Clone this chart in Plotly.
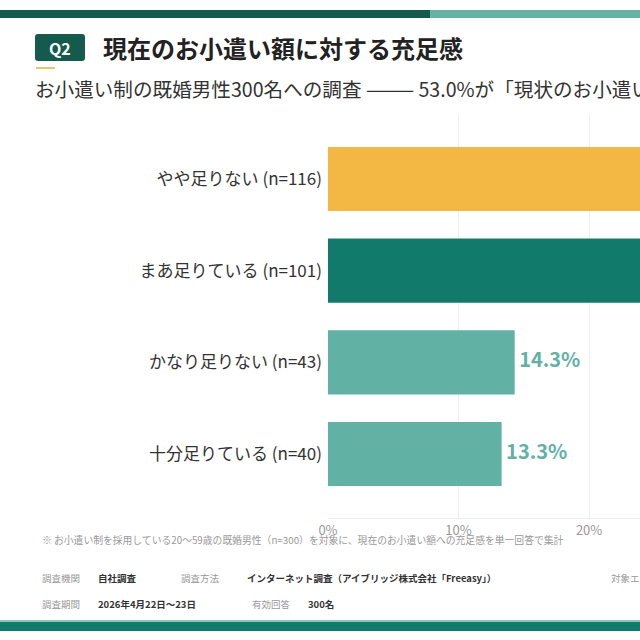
import plotly.graph_objects as go

# ---- data ----
categories = ["やや足りない", "まあ足りている", "かなり足りない", "十分足りている"]
counts = [116, 101, 43, 40]
percent = [38.7, 33.7, 14.3, 13.3]
bar_colors = ["#F2B843", "#127A6B", "#62B1A5", "#62B1A5"]
x_ticks = [0, 10, 20, 30, 40]
x_tick_labels = ["0%", "10%", "20%", "30%", "40%"]

labels = [f"{c} (n={n})" for c, n in zip(categories, counts)]
W = H = 640
FONT = "Noto Sans CJK JP"


def px(x):
    return x / W


def py(y):
    return 1 - y / H


fig = go.Figure()
fig.add_trace(go.Bar(
    x=percent, y=labels, orientation="h",
    marker=dict(color=bar_colors, line=dict(width=0)),
    width=0.70, hoverinfo="skip",
))
fig.add_trace(go.Scatter(
    x=percent, y=labels, mode="text",
    text=[f"\u00a0<b>{p:.1f}%</b>" for p in percent],
    textposition="middle right",
    textfont=dict(family=FONT, size=20, color=bar_colors),
    cliponaxis=True, hoverinfo="skip",
))

shapes = []
# top band
shapes.append(dict(type="rect", xref="paper", yref="paper", x0=0, x1=px(430), y0=py(18), y1=py(10),
                   fillcolor="#145B4D", line=dict(width=0), layer="above"))
shapes.append(dict(type="rect", xref="paper", yref="paper", x0=px(430), x1=1, y0=py(18), y1=py(10),
                   fillcolor="#66B3A6", line=dict(width=0), layer="above"))
# Q2 badge (rounded)
x0, x1, y0, y1, r = 35, 85, 34, 61, 3
path = (f"M {px(x0+r)},{py(y0)} L {px(x1-r)},{py(y0)} Q {px(x1)},{py(y0)} {px(x1)},{py(y0+r)} "
        f"L {px(x1)},{py(y1-r)} Q {px(x1)},{py(y1)} {px(x1-r)},{py(y1)} "
        f"L {px(x0+r)},{py(y1)} Q {px(x0)},{py(y1)} {px(x0)},{py(y1-r)} "
        f"L {px(x0)},{py(y0+r)} Q {px(x0)},{py(y0)} {px(x0+r)},{py(y0)} Z")
shapes.append(dict(type="path", xref="paper", yref="paper", path=path,
                   fillcolor="#145B4D", line=dict(width=0)))
# yellow underline
shapes.append(dict(type="rect", xref="paper", yref="paper", x0=px(36), x1=px(55), y0=py(69), y1=py(67),
                   fillcolor="#E8C66A", line=dict(width=0)))
# bottom band
shapes.append(dict(type="rect", xref="paper", yref="paper", x0=0, x1=1, y0=py(622), y1=py(620),
                   fillcolor="#8CC8BC", line=dict(width=0)))
shapes.append(dict(type="rect", xref="paper", yref="paper", x0=0, x1=1, y0=py(631), y1=py(622),
                   fillcolor="#127A6B", line=dict(width=0)))

ann = []


def add_text(x, y, text, size, color, bold=False, anchor="left"):
    ann.append(dict(xref="paper", yref="paper", x=px(x), y=py(y), xanchor=anchor, yanchor="middle",
                    text=f"<b>{text}</b>" if bold else text, showarrow=False,
                    font=dict(family=FONT, size=size, color=color)))


add_text(60, 47.5, "Q2", 16, "#FFFFFF", bold=True, anchor="center")
add_text(101, 47, "現在のお小遣い額に対する充足感", 24, "#222222", bold=True)
add_text(33, 89, "お小遣い制の既婚男性300名への調査 ——— 53.0%が「現状のお小遣いでは足りない」と回答", 19.6, "#333333")
add_text(40, 540, "※ お小遣い制を採用している20～59歳の既婚男性（n=300）を対象に、現在のお小遣い額への充足感を単一回答で集計", 9.8, "#999999")
add_text(40, 578, "調査機関", 9.5, "#999999")
add_text(96, 578, "自社調査", 9.5, "#333333", bold=True)
add_text(179, 578, "調査方法", 9.5, "#999999")
add_text(245, 578, "インターネット調査（アイブリッジ株式会社「Freeasy」）", 9.5, "#333333", bold=True)
add_text(609, 578, "対象エリア", 9.5, "#999999")
add_text(40, 604, "調査期間", 9.5, "#999999")
add_text(96, 604, "2026年4月22日～23日", 9.5, "#333333", bold=True)
add_text(250, 604, "有効回答", 9.5, "#999999")
add_text(306, 604, "300名", 9.5, "#333333", bold=True)

fig.update_layout(
    template="none",
    width=W, height=H,
    margin=dict(l=0, r=0, t=0, b=0, pad=0, autoexpand=False),
    paper_bgcolor="white", plot_bgcolor="white",
    showlegend=False, bargap=0.3,
    font=dict(family=FONT),
    shapes=shapes, annotations=ann,
    xaxis=dict(domain=[px(328), 1], range=[0, 23.9], tickvals=x_ticks, ticktext=x_tick_labels,
               automargin=False,
               showgrid=True, gridcolor="#EEEEEE", gridwidth=1, zeroline=False,
               showline=True, linecolor="#EEEEEE", ticks="",
               tickfont=dict(family=FONT, size=13, color="#999999")),
    yaxis=dict(domain=[1 - 518 / H, 1 - 115 / H], type="category", categoryarray=labels,
               automargin=False,
               range=[3.698, -0.698], showgrid=False, zeroline=False, ticks="", showline=False,
               ticklabelstandoff=5,
               tickfont=dict(family=FONT, size=17, color="#333333")),
)

fig.write_html("out.html")
